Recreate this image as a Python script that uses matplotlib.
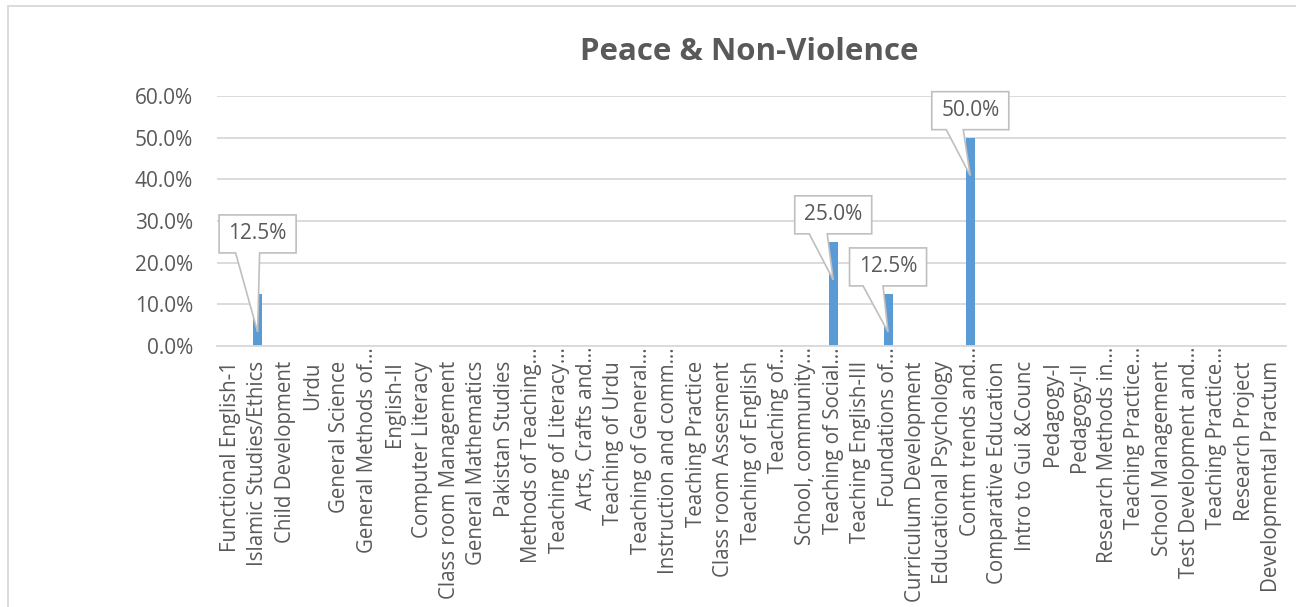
import matplotlib.pyplot as plt
from matplotlib.patches import Polygon, Rectangle
from matplotlib.ticker import FuncFormatter

plt.rcParams['font.family'] = ['Open Sans', 'DejaVu Sans']

courses = [
    "Functional English-1", "Islamic Studies/Ethics", "Child Development", "Urdu",
    "General Science", "General Methods of…", "English-II", "Computer Literacy",
    "Class room Management", "General Mathematics", "Pakistan Studies",
    "Methods of Teaching…", "Teaching of Literacy…", "Arts, Crafts and…",
    "Teaching of Urdu", "Teaching of General…", "Instruction and comm…",
    "Teaching Practice", "Class room Assesment", "Teaching of English",
    "Teaching of…", "School, community…", "Teaching of Social…",
    "Teaching English-III", "Foundations of…", "Curriculum Development",
    "Educational Psychology", "Contm trends and…", "Comparative Education",
    "Intro to Gui &Counc", "Pedagogy-I", "Pedagogy-II", "Research Methods in…",
    "Teaching Practice…", "School Management", "Test Development and…",
    "Teaching Practice…", "Research Project", "Developmental Practum",
]
share = [0.0] * len(courses)
share[1] = 0.125    # Islamic Studies/Ethics
share[22] = 0.25    # Teaching of Social...
share[24] = 0.125   # Foundations of...
share[27] = 0.50    # Contm trends and...

TEXT = '#595959'
GRID = '#D9D9D9'
BAR = '#5B9BD5'
FS = 15
LABEL_FS = 14.8

W, H = 1296, 607
fig = plt.figure(figsize=(W / 100, H / 100), dpi=100)
fig.patch.set_facecolor('white')

# outer chart frame (runs off the right and bottom edges)
fig.patches.append(Rectangle((8 / W, -0.2), 1.2, 1.2 - 6 / H, transform=fig.transFigure,
                             fill=False, edgecolor=GRID, lw=1.3))

left, right, top, bottom = 216.5, 1285.5, 96, 346
ax = fig.add_axes([left / W, 1 - bottom / H, (right - left) / W, (bottom - top) / H])

x = list(range(len(courses)))
ax.bar(x, share, width=0.33, color=BAR, zorder=2)

ax.set_xlim(-0.5, len(courses) - 0.5)
ax.set_ylim(0, 0.6)
ax.set_yticks([0, 0.1, 0.2, 0.3, 0.4, 0.5, 0.6])
ax.yaxis.set_major_formatter(FuncFormatter(lambda v, _: f"{v:.1%}"))
ax.tick_params(axis='y', length=0, pad=17, labelsize=FS, labelcolor=TEXT)
ax.set_xticks([])
ax.yaxis.grid(True, color=GRID, lw=1.3)
ax.set_axisbelow(True)
for side in ('left', 'right', 'top'):
    ax.spines[side].set_visible(False)
ax.spines['bottom'].set_color(GRID)
ax.spines['bottom'].set_linewidth(1.3)

# rotated category labels; truncated ones sit a little higher
for i, name in enumerate(courses):
    off = 1 if name.endswith('…') else 15
    ax.annotate(name, xy=(i, 0), xytext=(0, -off), textcoords='offset pixels',
                rotation=90, ha='center', va='top', fontsize=LABEL_FS, color=TEXT,
                annotation_clip=False)


def px(xd, yd, dx, dy):
    d = ax.transData.transform((xd, yd))
    return ax.transData.inverted().transform((d[0] + dx, d[1] + dy))


# callout boxes: (box lift above bar top, notch left/right in px)
callout_style = {1: (41, -22, 2), 22: (8, -24, -6), 24: (8, -25, -5), 27: (8, -24, -7)}
bw, bh = 77, 38
for i, v in enumerate(share):
    if v <= 0:
        continue
    lift, nl, nr = callout_style[i]
    pts = [(-bw / 2, lift), (-bw / 2, lift + bh), (bw / 2, lift + bh), (bw / 2, lift),
           (nr, lift), (0, -38), (nl, lift)]
    poly = Polygon([px(i, v, dx, dy) for dx, dy in pts], closed=True,
                   facecolor='white', edgecolor='#BFBFBF', lw=1.2, zorder=3,
                   clip_on=False)
    ax.add_patch(poly)
    cx, cy = px(i, v, 0, lift + bh / 2)
    ax.text(cx, cy, f"{v:.1%}", ha='center', va='center', fontsize=FS,
            color=TEXT, zorder=4)

fig.text(749 / W, 1 - 52 / H, "Peace & Non-Violence", ha='center', va='center',
         fontsize=22.5, fontweight='bold', color=TEXT)

fig.savefig('out.png', dpi=100)
